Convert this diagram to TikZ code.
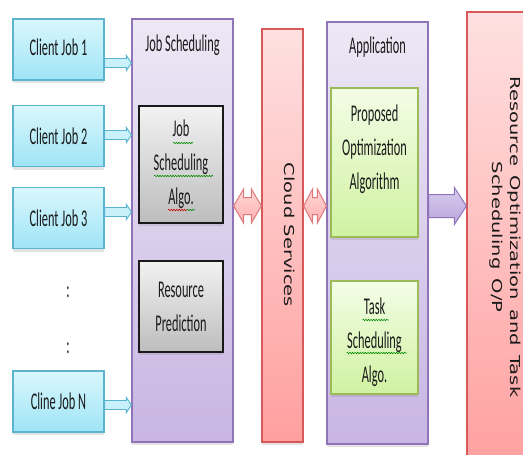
\documentclass[tikz,border=0pt]{standalone}
\usepackage{fontspec}
\setmainfont[FakeStretch=0.515]{Carlito}
\newfontfamily\rotfont{DejaVu Sans}
\usetikzlibrary{calc,shadows,decorations.pathmorphing}
\definecolor{cyTop}{HTML}{D9F7FD}
\definecolor{cyBot}{HTML}{9FE4F6}
\definecolor{cyLine}{HTML}{5AB4D0}
\definecolor{lvTop}{HTML}{EDE8F5}
\definecolor{lvBot}{HTML}{C8B5E3}
\definecolor{lvLine}{HTML}{8F74B8}
\definecolor{gyTop}{HTML}{F2F2F2}
\definecolor{gyBot}{HTML}{BDBDBD}
\definecolor{pkTop}{HTML}{FFE0E0}
\definecolor{pkBot}{HTML}{FF9F9F}
\definecolor{pkLine}{HTML}{D9595B}
\definecolor{gnTop}{HTML}{F3FDE6}
\definecolor{gnBot}{HTML}{D0F2A2}
\definecolor{gnLine}{HTML}{9BBB59}
\definecolor{paTop}{HTML}{FFD6D6}
\definecolor{paBot}{HTML}{FFB0B0}
\definecolor{paLine}{HTML}{E0787A}
\definecolor{puTop}{HTML}{D8CCEE}
\definecolor{puBot}{HTML}{BBA6DC}
\definecolor{txt}{HTML}{1A1A1A}
\newcommand\squeezed[1]{\scalebox{1}[0.7]{\begin{tabular}{@{}c@{}}#1\end{tabular}}}
\tikzset{
  box/.style={rectangle, inner sep=0pt, align=center, text=txt,
    font=\fontsize{24}{34}\selectfont,
    drop shadow={shadow xshift=0pt, shadow yshift=-3pt, opacity=0.22}},
  cjob/.style={box, draw=cyLine, line width=1.2pt, top color=cyTop, bottom color=cyBot,
    minimum width=91pt, minimum height=61pt},
  panel/.style={box, draw=lvLine, line width=1.2pt, top color=lvTop, bottom color=lvBot},
  graybox/.style={box, draw=black!90, line width=1.4pt, top color=gyTop, bottom color=gyBot,
    minimum width=84pt},
  greenbox/.style={box, draw=gnLine, line width=1.2pt, top color=gnTop, bottom color=gnBot,
    minimum width=87pt},
  pinkpanel/.style={box, draw=pkLine, line width=1.2pt, top color=pkTop, bottom color=pkBot},
  lbl/.style={inner sep=0pt, align=center, text=txt, font=\fontsize{24}{34}\selectfont},
  rotlbl/.style={inner sep=0pt, text=txt, rotate=-90,
    font=\rotfont\fontsize{19.5}{26}\selectfont},
  cyarrow/.style={draw=cyLine, line width=0.9pt, fill=cyTop!70!cyBot},
  pkarrow/.style={draw=paLine, line width=1pt, top color=paTop, bottom color=paBot},
  puarrow/.style={draw=lvLine, line width=1pt, top color=puTop, bottom color=puBot},
  squig/.style={line width=0.6pt, decorate, decoration={snake, amplitude=0.7pt, segment length=2.6pt}}
}
% single block arrow: #1 start, #2 end, #3 shaft half, #4 head half, #5 head length, #6 style
\newcommand\blockarrow[6]{%
  \path[#6] let \p1=#1, \p2=#2 in
    (\x1,{\y1+#3pt}) -- ({\x2-#5pt},{\y1+#3pt}) -- ({\x2-#5pt},{\y1+#4pt}) -- (\x2,\y1)
    -- ({\x2-#5pt},{\y1-#4pt}) -- ({\x2-#5pt},{\y1-#3pt}) -- (\x1,{\y1-#3pt}) -- cycle;}
% double block arrow
\newcommand\dblarrow[6]{%
  \path[#6] let \p1=#1, \p2=#2 in
    (\x1,\y1) -- ({\x1+#5pt},{\y1+#4pt}) -- ({\x1+#5pt},{\y1+#3pt}) -- ({\x2-#5pt},{\y1+#3pt})
    -- ({\x2-#5pt},{\y1+#4pt}) -- (\x2,\y1) -- ({\x2-#5pt},{\y1-#4pt}) -- ({\x2-#5pt},{\y1-#3pt})
    -- ({\x1+#5pt},{\y1-#3pt}) -- ({\x1+#5pt},{\y1-#4pt}) -- cycle;}
\begin{document}
\begin{tikzpicture}[x=1pt,y=-1pt]
\useasboundingbox (0,0) rectangle (523,455);
\clip (0,0) rectangle (523,455);
% client jobs
\node[cjob] (c1) at (58.5,49.5) {\raisebox{4pt}{Client Job 1}};
\node[cjob] (c2) at (58.5,136) {Client Job 2};
\node[cjob] (c3) at (58.5,218) {Client Job 3};
\node[cjob] (cn) at (58.5,401.5) {Cline Job N};
\node[lbl] (d1) at (68,292) {:};
\node[lbl] (d2) at (68,348) {:};
% panels
\node[panel, minimum width=101pt, minimum height=423pt] (js) at (182.5,230.5) {};
\node[lbl] (jst) at (182.5,45) {Job Scheduling};
\node[graybox, minimum height=117pt] (g1) at (181,164.5) {Job\\Scheduling\\Algo.};
\node[graybox, minimum height=91pt] (g2) at (181,306.5) {Resource\\Prediction};
\node[pinkpanel, minimum width=41pt, minimum height=413pt] (cloud) at (282.5,235.5) {};
\node[rotlbl] (cloudt) at (288,235) {\squeezed{Cloud Services}};
\node[panel, minimum width=101pt, minimum height=422pt] (app) at (377.5,233) {};
\node[lbl] (appt) at (377.5,47) {Application};
\node[greenbox, minimum height=149pt] (p1) at (374.5,162.5) {};
\node[lbl] (p1t) at (374.5,149) {Proposed\\Optimization\\Algorithm};
\node[greenbox, minimum height=113pt] (p2) at (374.5,337.5) {};
\node[lbl] (p2t) at (374.5,342) {Task\\Scheduling\\Algo.};
\node[pinkpanel, minimum width=70pt, minimum height=460pt] (res) at (502,242) {};
\node[rotlbl] (rest) at (505,237)
  {\squeezed{Resource\hspace{3pt} Optimization\hspace{3pt} and\hspace{3pt} Task\\Scheduling\hspace{3pt} O/P}};
% spell-check squiggles
\draw[squig, green!55!black] ($(g1.center)+(-8,-21.5)$) -- ($(g1.center)+(12,-21.5)$);
\draw[squig, green!55!black] ($(g1.center)+(-27,11.5)$) -- ($(g1.center)+(32,11.5)$);
\draw[squig, red!80!black] ($(g1.center)+(-13,45.5)$) -- ($(g1.center)+(6,45.5)$);
\draw[squig, green!55!black] ($(g1.center)+(6,45.5)$) -- ($(g1.center)+(14,45.5)$);
\draw[squig, green!55!black] ($(p2t.center)+(-12,-22)$) -- ($(p2t.center)+(14,-22)$);
\draw[squig, green!55!black] ($(p2t.center)+(-28,11)$) -- ($(p2t.center)+(32,11)$);
% arrows from clients
\coordinate (a1) at ($(c1.east)+(0,13.5)$);
\coordinate (a2) at ($(c2.east)+(0,-1)$);
\coordinate (a3) at ($(c3.east)+(0,-6)$);
\coordinate (an) at ($(cn.east)+(0,3.5)$);
\blockarrow{(a1)}{(js.west |- a1)}{4.5}{7.5}{5}{cyarrow}
\blockarrow{(a2)}{(js.west |- a2)}{4.5}{7.5}{5}{cyarrow}
\blockarrow{(a3)}{(js.west |- a3)}{4.5}{7.5}{5}{cyarrow}
\blockarrow{(an)}{(js.west |- an)}{4.5}{7.5}{5}{cyarrow}
% double arrows
\coordinate (m1) at (js.east |- 0,206);
\coordinate (m2) at (app.west |- 0,206);
\dblarrow{(m1)}{(cloud.west |- m1)}{8.5}{17}{10}{pkarrow}
\dblarrow{(cloud.east |- m2)}{(m2)}{8.5}{17}{9}{pkarrow}
% output arrow
\coordinate (m3) at (app.east |- 0,206);
\blockarrow{(m3)}{(res.west |- m3)}{11.5}{18.5}{12}{puarrow}
\end{tikzpicture}
\end{document}
